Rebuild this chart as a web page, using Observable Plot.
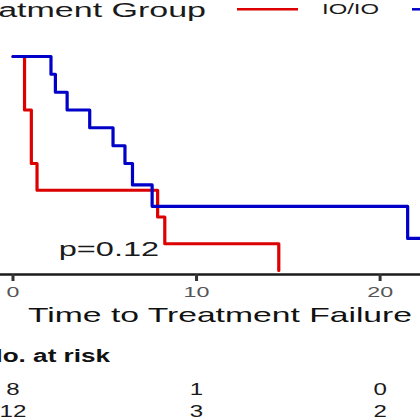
<!DOCTYPE html>
<html>
<head>
<meta charset="utf-8">
<script src="https://cdn.jsdelivr.net/npm/d3@7"></script>
<script src="https://cdn.jsdelivr.net/npm/@observablehq/plot@0.6"></script>
<style>
  html, body { margin: 0; padding: 0; background: #fff; }
  #chart { position: relative; width: 420px; height: 420px; overflow: hidden; }
  #chart > svg { position: absolute; left: 0; }
</style>
</head>
<body>
<div id="chart"></div>
<script>
// groups (second legend label is cut off in the picture)
var groups = ["IO/IO", "Other"];
var colors = ["#dc0000", "#0000c8"];

// Kaplan-Meier steps
var redTime = [0, 0.63, 1.0, 1.31, 7.88, 8.27, 14.48];
var redSurv = [1, 0.75, 0.5, 0.375, 0.25, 0.125, 0];
var blueTime = [0, 2.07, 2.31, 2.95, 4.18, 5.45, 6.1, 6.51, 7.58, 21.5, 23];
var blueSurv = [1, 0.917, 0.833, 0.75, 0.667, 0.583, 0.5, 0.4, 0.3, 0.15, 0.15];

// number at risk table
var riskTimes = [0, 10, 20];
var riskRed = [8, 1, 0];
var riskBlue = [12, 3, 2];

var pLabel = "p=0.12";
var font = "'Liberation Sans', Arial, sans-serif";

var curves = [];
redTime.forEach(function (t, i) { curves.push({ group: groups[0], time: t, surv: redSurv[i] }); });
blueTime.forEach(function (t, i) { curves.push({ group: groups[1], time: t, surv: blueSurv[i] }); });

var risk = [];
riskTimes.forEach(function (t, i) {
    risk.push({ group: groups[0], time: t, n: riskRed[i] });
    risk.push({ group: groups[1], time: t, n: riskBlue[i] });
});

var xDomain = [-0.68, 22.2];
var yMin = -0.0187;

// text in the picture is stretched sideways
function stretch(sel, k) {
    sel.each(function () {
        var w = this.getComputedTextLength();
        this.setAttribute("textLength", (w * k).toFixed(1));
        this.setAttribute("lengthAdjust", "spacingAndGlyphs");
    });
}

var chart = d3.select("#chart");

var plot1 = Plot.plot({
    width: 420,
    height: 300,
    marginLeft: 0, marginRight: 0, marginTop: 56, marginBottom: 26,
    style: { fontFamily: font, fontSize: "15px", background: "transparent", overflow: "hidden" },
    x: { domain: xDomain },
    y: { domain: [yMin, 1], axis: null },
    color: { domain: groups, range: colors },
    marks: [
        Plot.ruleY([yMin], { stroke: "#1a1a1a", strokeWidth: 2.5 }),
        Plot.axisX({ ticks: riskTimes, tickSize: 7, tickPadding: 5, stroke: "#333", strokeWidth: 3, fill: "#555", label: null }),
        Plot.line(curves, { x: "time", y: "surv", z: "group", stroke: "group", curve: "step-after", strokeWidth: 3.2 }),
        Plot.text([pLabel], { x: 2.49, y: 0.1, text: function (d) { return d; }, textAnchor: "start", fontSize: 21, fill: "#1a1a1a" })
    ]
});
chart.append(function () { return plot1; }).style("top", "0px");
stretch(d3.select(plot1).selectAll("text"), 1.55);

var plot2 = Plot.plot({
    width: 420,
    height: 50,
    marginLeft: 0, marginRight: 0, marginTop: 18.5, marginBottom: 9.5,
    style: { fontFamily: font, background: "transparent" },
    x: { domain: xDomain, axis: null },
    y: { type: "point", domain: groups, padding: 0, axis: null },
    marks: [
        Plot.text(risk, { x: "time", y: "group", text: "n", fontSize: 17, fill: "#1a1a1a" })
    ]
});
chart.append(function () { return plot2; }).style("top", "370px");
stretch(d3.select(plot2).selectAll("text"), 1.42);

// legend, axis title and table heading
var ov = chart.append("svg")
    .attr("width", 420).attr("height", 420)
    .style("top", "0px")
    .style("font-family", font);

var legTitle = ov.append("text")
    .attr("x", 206).attr("y", 16.7)
    .attr("text-anchor", "end")
    .attr("font-size", 20).attr("fill", "#1a1a1a")
    .text("Treatment Group");
stretch(legTitle, 1.7);

ov.append("line").attr("x1", 237).attr("x2", 298).attr("y1", 9.3).attr("y2", 9.3)
    .attr("stroke", colors[0]).attr("stroke-width", 2.5);
ov.append("text")
    .attr("x", 322).attr("y", 14)
    .attr("font-size", 14).attr("fill", "#1a1a1a")
    .attr("textLength", 57).attr("lengthAdjust", "spacingAndGlyphs")
    .text(groups[0]);
ov.append("line").attr("x1", 412).attr("x2", 440).attr("y1", 9.3).attr("y2", 9.3)
    .attr("stroke", colors[1]).attr("stroke-width", 2.5);

ov.append("text")
    .attr("x", 220).attr("y", 322)
    .attr("text-anchor", "middle")
    .attr("font-size", 21).attr("fill", "#111")
    .attr("textLength", 384).attr("lengthAdjust", "spacingAndGlyphs")
    .text("Time to Treatment Failure");

var riskHead = ov.append("text")
    .attr("x", 110).attr("y", 361.7)
    .attr("text-anchor", "end")
    .attr("font-size", 18).attr("font-weight", "bold").attr("fill", "#111")
    .text("No. at risk");
stretch(riskHead, 1.45);
</script>
</body>
</html>
